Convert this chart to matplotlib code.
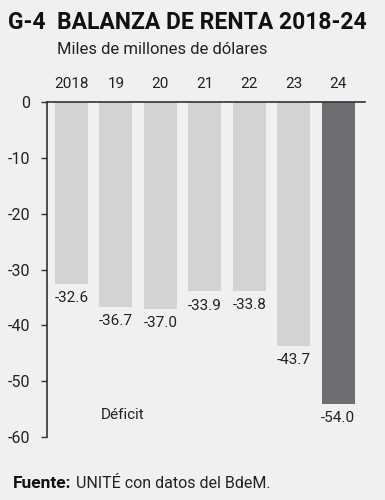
import matplotlib.pyplot as plt
from matplotlib import font_manager

years = ['2018', '19', '20', '21', '22', '23', '24']
values = [-32.6, -36.7, -37.0, -33.9, -33.8, -43.7, -54.0]
labels = ['-32.6', '-36.7', '-37.0', '-33.9', '-33.8', '-43.7', '-54.0']
yticks = [0, -10, -20, -30, -40, -50, -60]

names = {f.name for f in font_manager.fontManager.ttflist}
fam = 'Liberation Sans Narrow' if 'Liberation Sans Narrow' in names else 'Roboto'
plt.rcParams['font.family'] = [fam, 'DejaVu Sans']

bg = '#f0f0f0'
fig = plt.figure(figsize=(3.85, 5), dpi=100, facecolor=bg)
ax = fig.add_axes([0.122, 0.126, 0.826, 0.67], facecolor=bg)

colors = ['#d3d3d3'] * 6 + ['#6d6e72']
x = list(range(len(years)))
ax.bar(x, values, width=0.74, color=colors)

for xi, v, lab in zip(x, values, labels):
    ax.text(xi, v - 1.3, lab, ha='center', va='top', fontsize=11, color='#222222')

ax.set_xlim(-0.55, 6.6)
ax.set_ylim(-60, 0)
ax.set_yticks(yticks)
ax.set_yticklabels([str(t) for t in yticks], fontsize=11.5, color='#222222')
ax.tick_params(axis='y', length=4, width=1, color='#333333', pad=8)
ax.xaxis.tick_top()
ax.set_xticks(x)
ax.set_xticklabels(years, fontsize=11, color='#222222')
ax.tick_params(axis='x', length=0, pad=8)

for s in ['right', 'bottom']:
    ax.spines[s].set_visible(False)
for s in ['left', 'top']:
    ax.spines[s].set_color('#333333')
    ax.spines[s].set_linewidth(1.2)

ax.text(0.65, -56.1, 'Déficit', fontsize=11, color='#222222', va='center')

fig.text(0.02, 0.955, 'G-4  BALANZA DE RENTA 2018-24', fontsize=16.5,
         fontweight='bold', color='#111111', va='center')
fig.text(0.148, 0.9, 'Miles de millones de dólares', fontsize=12,
         color='#222222', va='center')
fig.text(0.034, 0.034, 'Fuente:', fontsize=12.5, fontweight='bold',
         color='#111111', va='center')
fig.text(0.198, 0.034, 'UNITÉ con datos del BdeM.', fontsize=11.5,
         color='#222222', va='center')

fig.savefig('out.png', dpi=100, facecolor=bg)
